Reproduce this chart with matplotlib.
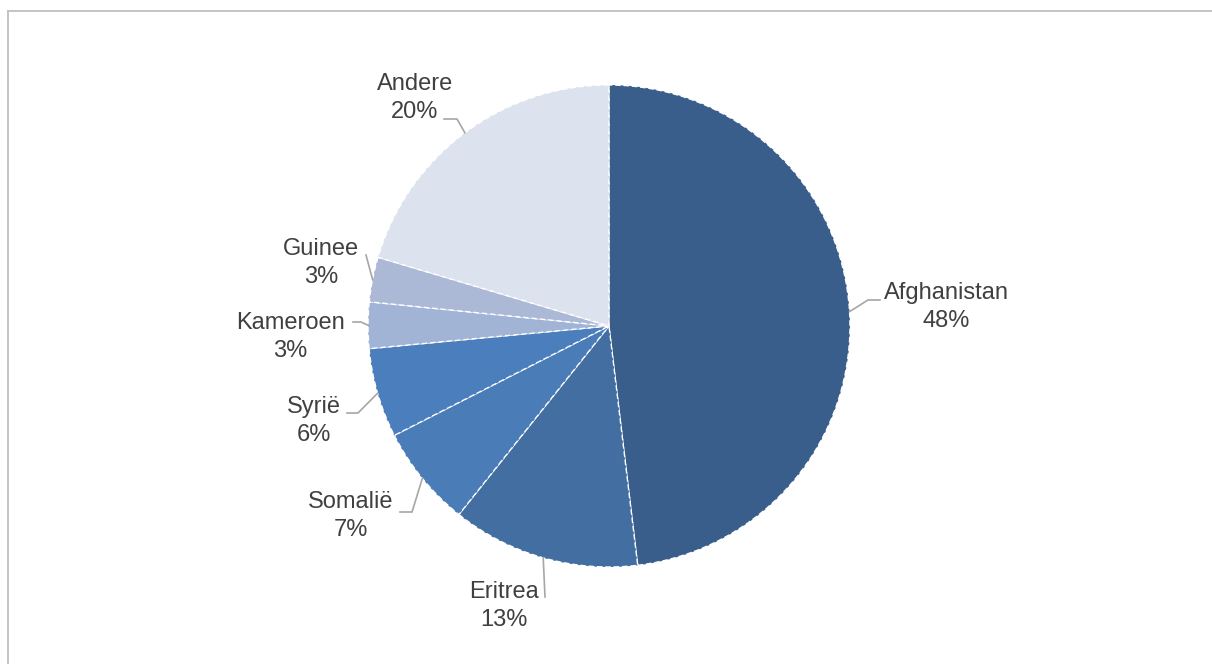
import numpy as np
import matplotlib
matplotlib.use("Agg")
import matplotlib.pyplot as plt
from matplotlib.lines import Line2D

plt.rcParams['font.family'] = ['Liberation Sans', 'DejaVu Sans']

categories = ["Afghanistan", "Eritrea", "Somalië", "Syrië", "Kameroen", "Guinee", "Andere"]
values = [48.1, 12.6, 6.8, 6.0, 3.1, 3.0, 20.4]
pct_labels = ["48%", "13%", "7%", "6%", "3%", "3%", "20%"]
colors = ["#3A5E8B", "#426EA1", "#4A7CB8", "#4B7EBC", "#A2B4D6", "#ABB9D7", "#DCE2EE"]

# layout (pixel coords, y downward): label block centre, leader elbow, leader end
label_pos = [(946, 307), (504, 606), (351, 516), (314, 421), (290, 337), (321, 263), (415, 98)]
leader_elbow = [(868, 300), (545, 597), (412, 512), (358, 413), (361, 322), (366, 255), (457, 119)]
leader_end = [(880, 300), (545, 597), (400, 512), (347, 413), (353, 322), (366, 255), (444, 119)]

W, H = 1212, 664
fig = plt.figure(figsize=(W / 100, H / 100), dpi=100)
ax = fig.add_axes([0, 0, 1, 1])

cx, cy, r = 609, 326, 241
Y = lambda y: H - y

wedges, _ = ax.pie(values, colors=colors, startangle=90, counterclock=False,
                   center=(cx, Y(cy)), radius=r, frame=True,
                   wedgeprops=dict(edgecolor="white", linewidth=1.0, linestyle=(0, (4, 2))))

ax.set_xlim(0, W)
ax.set_ylim(0, H)
ax.set_aspect('equal')
ax.axis('off')

for i, w in enumerate(wedges):
    mid = np.deg2rad((w.theta1 + w.theta2) / 2)
    sx = cx + r * np.cos(mid)
    sy = Y(cy) + r * np.sin(mid)
    ex, ey = leader_elbow[i]
    tx, ty = leader_end[i]
    ax.plot([sx, ex, tx], [sy, Y(ey), Y(ty)], color="#A6A6A6", lw=1.2,
            solid_joinstyle='miter', zorder=3)
    lx, ly = label_pos[i]
    ax.text(lx, Y(ly), f"{categories[i]}\n{pct_labels[i]}", ha="center", va="center",
            multialignment="center", fontsize=17, color="#404040", linespacing=1.32)

# chart border
fig.add_artist(Line2D([7.5 / W, 7.5 / W], [0, 1 - 10.5 / H], color="#BFBFBF", lw=1.3,
                      transform=fig.transFigure))
fig.add_artist(Line2D([7.5 / W, 1], [1 - 10.5 / H, 1 - 10.5 / H], color="#BFBFBF", lw=1.3,
                      transform=fig.transFigure))

fig.savefig("out.png", dpi=100, facecolor="white")
